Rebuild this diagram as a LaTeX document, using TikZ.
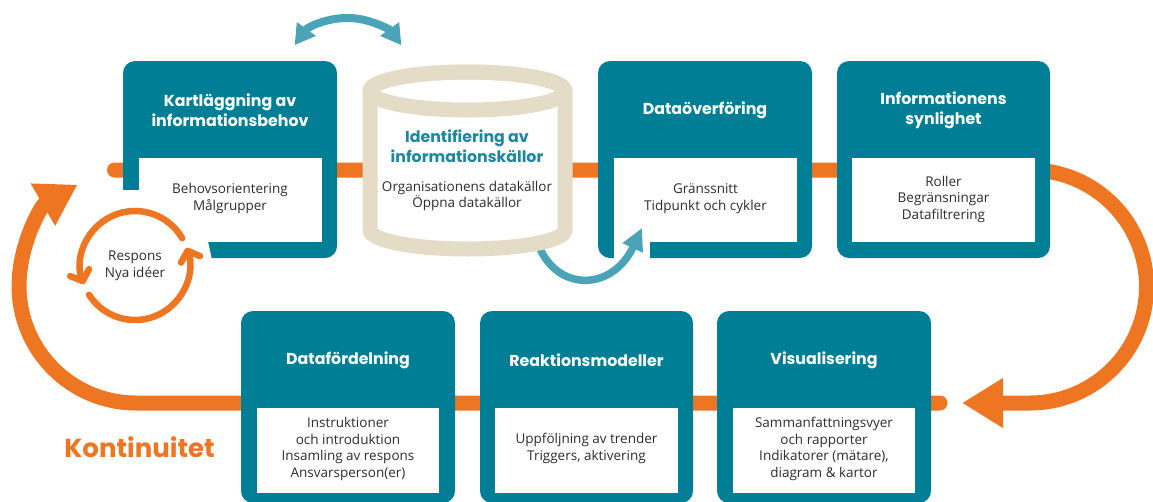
\documentclass[tikz,border=0pt]{standalone}
\usepackage{fontspec}
\setmainfont{Open Sans}
\newfontfamily\titlefont{Poppins}
\usetikzlibrary{arrows.meta}
\definecolor{tealbox}{RGB}{0,126,150}
\definecolor{orng}{RGB}{238,117,34}
\definecolor{beige}{RGB}{229,220,200}
\definecolor{ltteal}{RGB}{74,163,182}
\definecolor{cyltitle}{RGB}{27,135,160}
\definecolor{txt}{RGB}{45,45,45}
\begin{document}
\begin{tikzpicture}[x=1pt,y=-1pt,
  box/.style={fill=tealbox, rounded corners=12pt, inner sep=0pt, outer sep=0pt, minimum width=214pt},
  topbox/.style={box, minimum height=197pt},
  botbox/.style={box, minimum height=192pt},
  innerbox/.style={fill=white, inner sep=0pt, outer sep=0pt, minimum width=183pt, minimum height=84pt},
  ttl/.style={font=\titlefont\bfseries\fontsize{15.8}{20}\selectfont, text=white, align=center, inner sep=0pt},
  bodytxt/.style={font=\fontsize{13.5}{16.5}\selectfont, text=txt, align=center, inner sep=0pt},
  flow/.style={draw=orng, line width=15pt},
  smallflow/.style={draw=orng, line width=6.5pt, line cap=round},
  blueflow/.style={draw=ltteal, line width=7.5pt},
  cut/.style={fill=white}
]
\useasboundingbox (0,0) rectangle (1153,501);

% ---- coordinates
\coordinate (topstart) at (114.5,170);
\coordinate (topturn) at (1030,170);
\coordinate (toptip) at (962,403);
\coordinate (botstart) at (940,403);
\coordinate (botturn) at (136,403);
\coordinate (rc) at (135,265.5);
\coordinate (tc) at (348,84);
\coordinate (cylout) at (538,244);
\coordinate (gapin) at (642,228);

% ---- orange flow lines
\draw[flow, line cap=round, -{Triangle[length=41pt,width=47pt]}]
  (topstart) -- (topturn) arc[start angle=-90, end angle=90, radius=116.5] -- (toptip);
\draw[flow, line cap=round, -{Triangle[length=40pt,width=46pt]}]
  (botstart) -- (botturn) arc[start angle=90, end angle=240, radius=117];

% ---- teal boxes
\node[topbox] (b1) at (230,159.5) {};
\node[innerbox] (b1in) at (230.5,200) {};
\node[topbox] (b3) at (705,159.5) {};
\node[innerbox] (b3in) at (705.5,200) {};
\node[topbox, minimum width=213pt] (b4) at (943.5,159.5) {};
\node[innerbox] (b4in) at (943.5,200) {};
\node[botbox] (b5) at (348,407) {};
\node[innerbox, minimum height=85pt, minimum width=182pt] (b5in) at (348,450.5) {};
\node[botbox, minimum width=213pt] (b6) at (586.5,407) {};
\node[innerbox, minimum height=85pt] (b6in) at (586.5,450.5) {};
\node[botbox] (b7) at (824,407) {};
\node[innerbox, minimum height=85pt, minimum width=182pt] (b7in) at (824,450.5) {};

% cut-outs in the box frames
\fill[cut] (119,190) -- (139.5,190) -- (139.5,241.5) -- (208,241.5) -- (212,260) -- (119,260) -- cycle;
\fill[cut] (614,240) rectangle (650,260);

% ---- blue arrow from cylinder to box 3
\draw[blueflow, -{Triangle[length=22pt,width=21pt]}]
  (cylout) .. controls (556,292) and (612,292) .. (gapin);

% ---- cylinder
\coordinate (cyl) at (467.5,160);
\filldraw[draw=beige, fill=white, line width=15pt, line join=round]
  (370,91) -- (370,230) arc[start angle=180, end angle=0, x radius=97.5, y radius=19]
  -- (565,91) arc[start angle=0, end angle=-180, x radius=97.5, y radius=19] -- cycle;
\draw[draw=beige, line width=15pt] (467.5,91) ellipse[x radius=97.5, y radius=19];

% ---- small feedback circle
\draw[smallflow, -{Straight Barb[length=9pt,width=20pt,round]}]
  ([shift={(-30:54.5)}]rc) arc[start angle=-30, end angle=-200, radius=54.5];
\draw[smallflow, -{Straight Barb[length=9pt,width=20pt,round]}]
  ([shift={(147.5:54.5)}]rc) arc[start angle=147.5, end angle=-19, radius=54.5];

% ---- top double arrow
\draw[draw=ltteal, line width=8pt, {Triangle[length=20pt,width=22pt]}-{Triangle[length=20pt,width=22pt]}]
  ([shift={(-144:66)}]tc) arc[start angle=-144, end angle=-36, radius=66];

% ---- texts
\node[ttl] (t1) at (230,110) {Kartläggning av\\informationsbehov};
\node[bodytxt] (s1) at (230,198.5) {Behovsorientering\\Målgrupper};
\node[ttl, text=cyltitle] (t2) at (467,146) {Identifiering av\\informationskällor};
\node[bodytxt] (s2) at (467,196) {Organisationens datakällor\\Öppna datakällor};
\node[ttl] (t3) at (705,110) {Dataöverföring};
\node[bodytxt] (s3) at (705.5,198.5) {Gränssnitt\\Tidpunkt och cykler};
\node[ttl] (t4) at (943.5,110) {Informationens\\synlighet};
\node[bodytxt] (s4) at (943.5,199) {Roller\\Begränsningar\\Datafiltrering};
\node[ttl] (t5) at (348,360) {Datafördelning};
\node[bodytxt] (s5) at (348,449) {Instruktioner\\och introduktion\\Insamling av respons\\Ansvarsperson(er)};
\node[ttl] (t6) at (586.5,360) {Reaktionsmodeller};
\node[bodytxt] (s6) at (586.5,448.5) {Uppföljning av trender\\Triggers, aktivering};
\node[ttl] (t7) at (824,360) {Visualisering};
\node[bodytxt] (s7) at (824,449) {Sammanfattningsvyer\\och rapporter\\Indikatorer (mätare),\\diagram \& kartor};
\node[bodytxt] (resp) at (135,266) {Respons\\Nya idéer};
\node[font=\titlefont\bfseries\fontsize{26}{30}\selectfont, text=orng, inner sep=0pt] (kont) at (139.5,447) {Kontinuitet};
\end{tikzpicture}
\end{document}
